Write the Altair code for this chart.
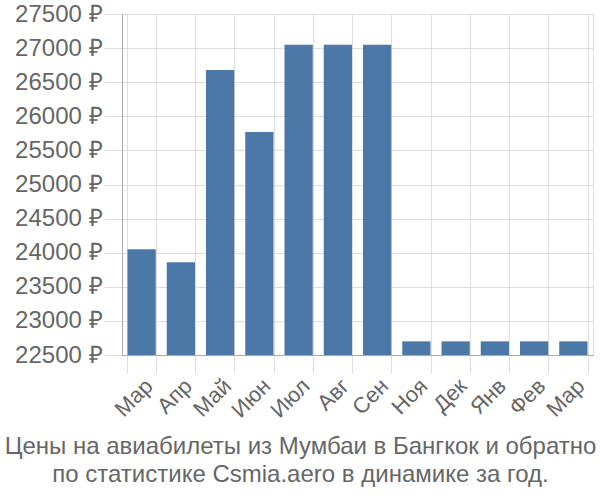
import altair as alt
import pandas as pd

months = ["Мар", "Апр", "Май", "Июн", "Июл", "Авг", "Сен", "Ноя", "Дек", "Янв", "Фев", "Мар"]
prices = [24050, 23860, 26680, 25770, 27050, 27050, 27050, 22700, 22700, 22700, 22700, 22700]
y_ticks = [22500, 23000, 23500, 24000, 24500, 25000, 25500, 26000, 26500, 27000, 27500]
base_value = 22500

df = pd.DataFrame({"idx": list(range(len(months))), "month": months, "price": prices,
                   "base": [base_value] * len(months)})
label_map = "{" + ",".join(f"'{i}':'{m}'" for i, m in enumerate(months)) + "}"

FONT = "Liberation Sans"
TEXT = "#666666"

chart = alt.Chart(df).mark_bar(color="#4c78a8").encode(
    x=alt.X(
        "idx:O",
        scale=alt.Scale(paddingInner=0.28, paddingOuter=0.14),
        axis=alt.Axis(
            title=None,
            labelExpr=f"{label_map}[datum.value]",
            labelAngle=-45,
            labelFontSize=22,
            labelColor=TEXT,
            labelFont=FONT,
            tickBand="extent",
            grid=True,
            gridColor="#dddddd",
            tickColor="#dddddd",
            tickSize=18,
            domainColor="#aaaaaa",
            labelPadding=2,
        ),
    ),
    y=alt.Y(
        "price:Q",
        scale=alt.Scale(domain=[22500, 27500], zero=False, nice=False),
        axis=alt.Axis(
            title=None,
            values=y_ticks,
            labelExpr="datum.value + ' ₽'",
            labelFontSize=24,
            labelColor=TEXT,
            labelFont=FONT,
            gridColor="#dddddd",
            tickColor="#dddddd",
            tickSize=18,
            domainColor="#aaaaaa",
            labelPadding=2,
        ),
    ),
    y2="base:Q",
).properties(
    width=471,
    height=341,
    autosize=alt.AutoSizeParams(type="none"),
    padding={"left": 122, "top": 14, "right": 7, "bottom": 145},
    title=alt.TitleParams(
        text=["Цены на авиабилеты из Мумбаи в Бангкок и обратно",
              "по статистике Csmia.aero в динамике за год."],
        orient="bottom",
        anchor="middle",
        fontSize=24,
        fontWeight="normal",
        color=TEXT,
        font=FONT,
        lineHeight=28,
        offset=14,
        dx=-57,
    ),
).configure_view(stroke="#dddddd")

chart.save("out.html", embed_options={"renderer": "svg", "actions": False})
